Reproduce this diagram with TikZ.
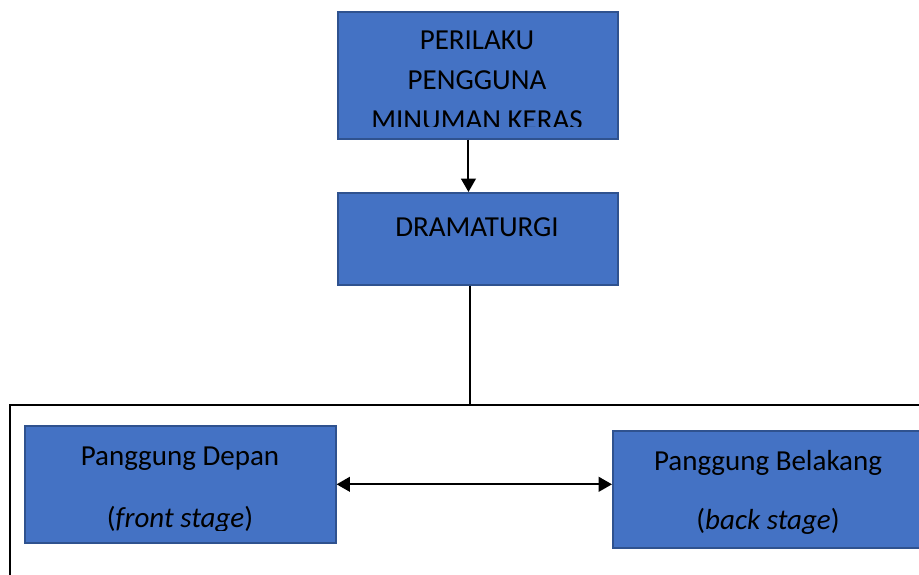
\documentclass[tikz,border=0pt]{standalone}
\usepackage{fontspec}
\setmainfont{Carlito}
\usetikzlibrary{arrows.meta}
\definecolor{boxfill}{RGB}{68,114,196}
\definecolor{boxline}{RGB}{47,82,143}
\tikzset{
  box/.style={draw=boxline, fill=boxfill, line width=1.2pt, inner sep=0pt, anchor=north west},
  boxtext/.style={anchor=base, inner sep=0pt, font=\fontsize{21.75}{26}\selectfont},
  link/.style={line width=1.5pt, -{Triangle[width=11pt,length=10pt]}},
  twolink/.style={line width=1.5pt, {Triangle[width=11pt,length=10pt]}-{Triangle[width=11pt,length=10pt]}},
  frame/.style={line width=1.5pt},
}
\begin{document}
\begin{tikzpicture}[x=0.75pt,y=0.75pt,yscale=-1,xscale=1]
\useasboundingbox (0,0) rectangle (919,574);

%Boxes
\node[box, minimum width=210pt, minimum height=95.25pt] (perilaku) at (337,11) {};
\node[box, minimum width=210pt, minimum height=69pt] (drama) at (337,192) {};
\node[box, minimum width=233.25pt, minimum height=87.75pt] (depan) at (24,425) {};
\node[box, minimum width=234pt, minimum height=87.75pt] (belakang) at (612,430) {};

% Text Node
\begin{scope}
\clip (337,11) rectangle (617,127);
\node[boxtext] (perilaku1) at (477,50) {PERILAKU};
\node[boxtext] (perilaku2) at (477,90) {PENGGUNA};
\node[boxtext] (perilaku3) at (477,130) {MINUMAN KERAS};
\end{scope}
% Text Node
\node[boxtext] (dramatxt) at (477,236) {DRAMATURGI};
% Text Node
\begin{scope}
\clip (24,425) rectangle (335,530);
\node[boxtext] (depan1) at (180,465) {Panggung Depan};
\node[boxtext] (depan2) at (180,527) {(\textit{front stage})};
\end{scope}
% Text Node
\begin{scope}
\clip (612,430) rectangle (924,534);
\node[boxtext] (belakang1) at (768,470) {Panggung Belakang};
\node[boxtext] (belakang2) at (768,529) {(\textit{back stage})};
\end{scope}

%Frame
\coordinate (fbl) at (10,580);
\coordinate (ftl) at (10,405);
\coordinate (ftr) at (925,405);
\draw[frame] (fbl) -- (ftl) -- (ftr);

%Connectors
\draw[link] ([xshift=-7pt]perilaku.south) -- ([xshift=-7pt]drama.north);
\draw[frame] ([xshift=-6pt]drama.south) -- ([xshift=-6pt]drama.south |- ftl);
\draw[twolink] (depan.east) -- (depan.east -| belakang.west);

\end{tikzpicture}
\end{document}
